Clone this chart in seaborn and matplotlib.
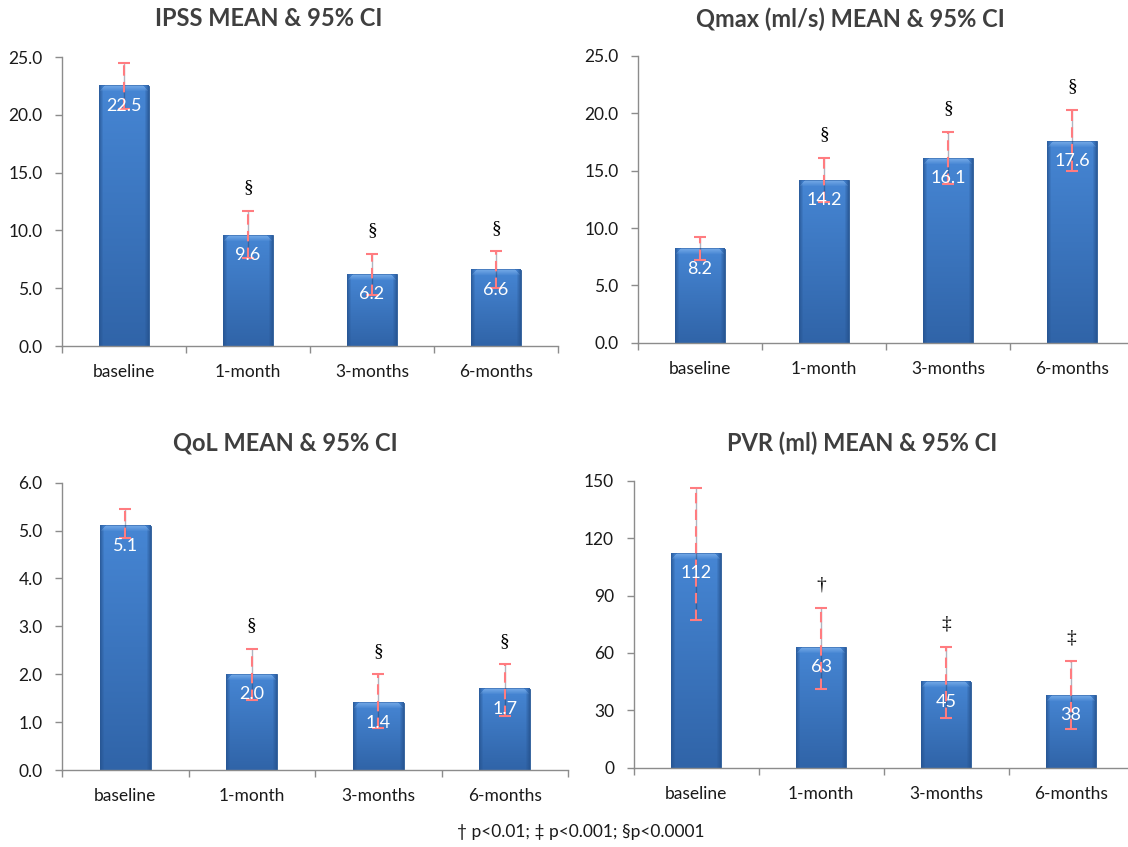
import numpy as np
import matplotlib
matplotlib.use("Agg")
import matplotlib.pyplot as plt
from matplotlib.ticker import FormatStrFormatter, FixedLocator
import seaborn as sns

# ---- data -------------------------------------------------------------
categories = ["baseline", "1-month", "3-months", "6-months"]

ipss_mean = [22.5, 9.6, 6.2, 6.6]
ipss_lo = [20.5, 7.6, 4.4, 5.0]
ipss_hi = [24.5, 11.7, 8.0, 8.2]
ipss_sig = ["", "§", "§", "§"]

qmax_mean = [8.2, 14.2, 16.1, 17.6]
qmax_lo = [7.2, 12.3, 13.8, 15.0]
qmax_hi = [9.2, 16.1, 18.4, 20.3]
qmax_sig = ["", "§", "§", "§"]

qol_mean = [5.1, 2.0, 1.4, 1.7]
qol_lo = [4.85, 1.46, 0.88, 1.13]
qol_hi = [5.46, 2.53, 2.0, 2.21]
qol_sig = ["", "§", "§", "§"]

pvr_mean = [112, 63, 45, 38]
pvr_lo = [77.4, 41.3, 26.1, 20.2]
pvr_hi = [146, 83.5, 63.3, 55.8]
pvr_sig = ["", "†", "‡", "‡"]

footnote = "† p<0.01; ‡ p<0.001; §p<0.0001"

# ---- style ------------------------------------------------------------
sns.set_theme(style="white")
plt.rcParams["font.family"] = ["Lato", "DejaVu Sans"]

W, H = 1128, 847
fig = plt.figure(figsize=(W / 100, H / 100), dpi=100)
fig.patch.set_facecolor("white")


def px_axes(x0, x1, y_top, y_bot):
    return fig.add_axes([x0 / W, (H - y_bot) / H, (x1 - x0) / W, (y_bot - y_top) / H])


def hex2rgb(h):
    h = h.lstrip("#")
    return np.array([int(h[i:i + 2], 16) for i in (0, 2, 4)]) / 255.0


TOP = hex2rgb("#4686D4")
BOT = hex2rgb("#3064A8")
EDGE = hex2rgb("#25528E")
BEVEL = hex2rgb("#7DB0EA")


def shade_bar(ax, patch):
    """Paint a bevelled vertical gradient over a bar patch."""
    x0, y0 = patch.get_x(), patch.get_y()
    w, h = patch.get_width(), patch.get_height()
    bb = patch.get_window_extent()
    nh = max(int(round(bb.height)), 2)
    nw = max(int(round(bb.width)), 2)
    t = np.linspace(0, 1, nh)[:, None, None]
    img = TOP * (1 - t) + BOT * t
    img = np.repeat(img, nw, axis=1)
    cols = np.arange(nw)
    d = np.minimum(cols, nw - 1 - cols).astype(float)
    edge_w = np.clip(1 - d / 4.0, 0, 1)[None, :, None]
    img = img * (1 - 0.75 * edge_w) + EDGE * 0.75 * edge_w
    bev = 6
    for r in range(min(bev, nh)):
        a = 0.85 * (1 - r / bev)
        inset = bev - r
        lo, hi = inset, nw - inset
        if hi > lo:
            img[r, lo:hi] = img[r, lo:hi] * (1 - a) + BEVEL * a
    img[0, :] = img[0, :] * 0.4 + BOT * 0.6
    ax.imshow(np.clip(img, 0, 1), extent=(x0, x0 + w, y0, y0 + h), origin="upper",
              aspect="auto", interpolation="bilinear", zorder=2.5)


def panel(ax, mean, lo, hi, sig, ymax, ystep, fmt, lab_fmt):
    sns.barplot(x=categories, y=mean, ax=ax, color="#3B74BE", width=0.4,
                saturation=1, errorbar=None, zorder=2, edgecolor="#2A5A96",
                linewidth=0.6)
    ax.set_xlim(-0.5, 3.5)
    ax.set_ylim(0, ymax)
    fig.canvas.draw()
    for p in list(ax.patches):
        shade_bar(ax, p)
    ax.set_xlim(-0.5, 3.5)
    ax.set_ylim(0, ymax)

    x = np.arange(len(categories))
    m = np.array(mean, float)
    yerr = np.vstack([m - np.array(lo), np.array(hi) - m])
    ax.vlines(x, lo, hi, color="#1E2A4A", alpha=0.35, lw=1.0, zorder=3)
    eb = ax.errorbar(x, m, yerr=yerr, fmt="none", ecolor="#FF7C80", elinewidth=1.5,
                     capsize=4, capthick=1.5, zorder=4)
    eb[2][0].set_linestyle((0, (5, 3)))

    for xi, mi, hi_i, s in zip(x, mean, hi, sig):
        ax.annotate(lab_fmt.format(mi), (xi, mi), xytext=(0, -20),
                    textcoords="offset pixels", ha="center", va="center",
                    color="white", fontsize=13, zorder=5)
        if s:
            ax.annotate(s, (xi, hi_i), xytext=(0, 23), textcoords="offset pixels",
                        ha="center", va="center", color="black", fontsize=14,
                        family=["Liberation Serif", "DejaVu Serif"], zorder=5)

    ax.yaxis.set_major_locator(FixedLocator(np.arange(0, ymax + ystep / 2, ystep)))
    ax.yaxis.set_major_formatter(FormatStrFormatter(fmt))
    ax.set_xticks(x)
    ax.set_xticklabels(categories)
    ax.xaxis.set_minor_locator(FixedLocator([-0.5, 0.5, 1.5, 2.5, 3.5]))
    ax.tick_params(axis="x", which="major", length=0, pad=13, labelsize=12.5,
                   labelcolor="#1A1A1A")
    ax.tick_params(axis="x", which="minor", length=5, width=1, color="#8C8C8C",
                   direction="out", bottom=True)
    ax.tick_params(axis="y", which="major", length=5, width=1, color="#8C8C8C",
                   direction="out", left=True, pad=9, labelsize=12.5,
                   labelcolor="#1A1A1A")
    for side in ("top", "right"):
        ax.spines[side].set_visible(False)
    for side in ("left", "bottom"):
        ax.spines[side].set_color("#8C8C8C")
        ax.spines[side].set_linewidth(1.0)
    ax.set_xlabel("")
    ax.set_ylabel("")
    ax.set_facecolor("none")


ax1 = px_axes(62, 558, 57, 346)
panel(ax1, ipss_mean, ipss_lo, ipss_hi, ipss_sig, 25, 5, "%.1f", "{:.1f}")
ax2 = px_axes(638, 1134, 56, 342.7)
panel(ax2, qmax_mean, qmax_lo, qmax_hi, qmax_sig, 25, 5, "%.1f", "{:.1f}")
ax3 = px_axes(62, 568, 482.7, 770)
panel(ax3, qol_mean, qol_lo, qol_hi, qol_sig, 6, 1, "%.1f", "{:.1f}")
ax4 = px_axes(633.5, 1133.5, 480.7, 767.7)
panel(ax4, pvr_mean, pvr_lo, pvr_hi, pvr_sig, 150, 30, "%d", "{:.0f}")

title_kw = dict(ha="center", va="center", fontsize=17, fontweight="bold", color="#3F3F3F")
fig.text(269 / W, 1 - 19 / H, "IPSS MEAN & 95% CI", **title_kw)
fig.text(850 / W, 1 - 19 / H, "Qmax (ml/s) MEAN & 95% CI", **title_kw)
fig.text(285 / W, 1 - 443 / H, "QoL MEAN & 95% CI", **title_kw)
fig.text(862 / W, 1 - 443 / H, "PVR (ml) MEAN & 95% CI", **title_kw)

fig.text(581 / W, 1 - 832 / H, footnote, ha="center", va="center", fontsize=12.5,
         color="#1A1A1A", family=["Lato", "DejaVu Sans"])

fig.savefig("out.png", dpi=100, facecolor="white")
